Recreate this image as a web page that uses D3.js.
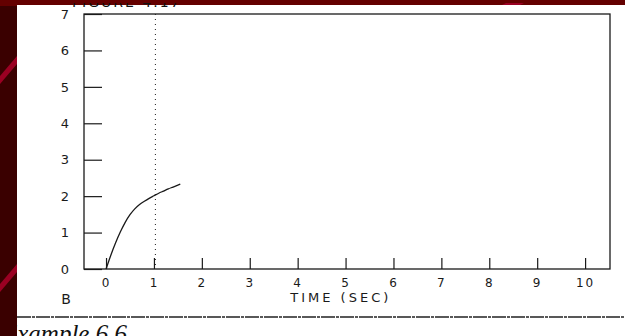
<!DOCTYPE html>
<html>
<head>
<meta charset="utf-8">
<script src="https://cdnjs.cloudflare.com/ajax/libs/d3/7.8.5/d3.min.js"></script>
<style>
  html, body { margin: 0; padding: 0; background: #3a0000; }
  svg { display: block; }
</style>
</head>
<body>
<svg id="svg" width="625" height="336"></svg>
<script>
// curve
var timeSec = [0, 0.1, 0.2, 0.3, 0.4, 0.5, 0.6, 0.7, 0.8, 0.9, 1.0, 1.1, 1.2, 1.3, 1.4, 1.55];
var response = [0, 0.38, 0.72, 1.02, 1.28, 1.49, 1.65, 1.77, 1.86, 1.94, 2.01, 2.08, 2.14, 2.2, 2.25, 2.33];
var xTicks = [0, 1, 2, 3, 4, 5, 6, 7, 8, 9, 10];
var yTicks = [0, 1, 2, 3, 4, 5, 6, 7];
var markerTime = 1.03;

(function() {
    var svg = d3.select("#svg");
    var W = 625, H = 336;

    // background: dark slide with red diagonal stripes
    svg.append("rect").attr("width", W).attr("height", H).attr("fill", "#3a0000");
    svg.append("rect").attr("width", W).attr("height", 6).attr("fill", "#640000");
    var stripes = [[0, 76, 17, 56], [0, 284, 17, 264]];
    stripes.forEach(function(s) {
        svg.append("path")
            .attr("d", "M" + s[0] + "," + s[1] + "L" + s[2] + "," + s[3] + "L" + s[2] + "," + (s[3] + 8) + "L" + s[0] + "," + (s[1] + 8) + "Z")
            .attr("fill", "#9a0022");
    });
    svg.append("path").attr("d", "M500,6L512,0L530,0L518,6Z").attr("fill", "#9a0022");

    // white scanned page
    svg.append("rect").attr("x", 17).attr("y", 5).attr("width", W - 17).attr("height", H - 5).attr("fill", "#fff");

    // cut-off caption at top
    svg.append("text").attr("x", 72).attr("y", 7).attr("font-family", "DejaVu Sans").attr("font-size", 14)
        .attr("letter-spacing", 2).attr("fill", "#111").text("FIGURE 4.17");
    svg.append("rect").attr("x", 17).attr("y", 0).attr("width", W - 17).attr("height", 3).attr("fill", "#640000");

    var x0 = 84, x1 = 610, y0 = 14, y1 = 269;
    var x = d3.scaleLinear().domain([-0.46, 10.52]).range([x0, x1]);
    var y = d3.scaleLinear().domain([0, 7]).range([y1, y0]);

    var g = svg.append("g");
    var ink = "#1a1a1a";

    // frame
    g.append("rect").attr("x", x0).attr("y", y0).attr("width", x1 - x0).attr("height", y1 - y0)
        .attr("fill", "none").attr("stroke", ink).attr("stroke-width", 1.3);

    // y ticks: drawn inward
    var yAxis = d3.axisLeft(y).tickValues(yTicks).tickSize(-18).tickPadding(14).tickFormat(d3.format("d"));
    var ya = g.append("g").attr("transform", "translate(" + x0 + ",0)").call(yAxis);
    ya.select(".domain").remove();
    ya.selectAll("line").attr("stroke", ink).attr("stroke-width", 1.2);
    ya.selectAll("text").attr("font-family", "DejaVu Sans").attr("font-size", 13)
        .attr("fill", ink).attr("dx", -1);

    // x ticks: drawn inward
    var xAxis = d3.axisBottom(x).tickValues(xTicks).tickSize(-11).tickPadding(9).tickFormat(d3.format("d"));
    var xa = g.append("g").attr("transform", "translate(0," + y1 + ")").call(xAxis);
    xa.select(".domain").remove();
    xa.selectAll("line").attr("stroke", ink).attr("stroke-width", 1.2);
    xa.selectAll("text").attr("font-family", "DejaVu Sans").attr("font-size", 12).attr("fill", ink).attr("letter-spacing", 2);

    // dotted marker line
    g.append("line").attr("x1", x(markerTime)).attr("x2", x(markerTime)).attr("y1", y0).attr("y2", y1)
        .attr("stroke", ink).attr("stroke-width", 1).attr("stroke-dasharray", "1,4");

    // response curve
    var line = d3.line().x(function(d, i) { return x(timeSec[i]); }).y(function(d) { return y(d); }).curve(d3.curveMonotoneX);
    g.append("path").datum(response).attr("d", line).attr("fill", "none").attr("stroke", ink).attr("stroke-width", 1.3);

    // labels
    g.append("text").attr("x", x(4.9)).attr("y", 302).attr("text-anchor", "middle").attr("font-family", "DejaVu Sans")
        .attr("font-size", 13).attr("letter-spacing", 3).attr("fill", ink).text("TIME (SEC)");
    g.append("text").attr("x", 66).attr("y", 304).attr("text-anchor", "middle").attr("font-family", "DejaVu Sans")
        .attr("font-size", 14).attr("fill", ink).text("B");

    // separator and caption below
    svg.append("line").attr("x1", 17).attr("x2", W).attr("y1", 317).attr("y2", 317)
        .attr("stroke", "#222").attr("stroke-width", 1.5).attr("stroke-dasharray", "14,1,3,1");
    svg.append("text").attr("x", 2).attr("y", 342).attr("font-family", "Liberation Serif").attr("font-style", "italic")
        .attr("font-size", 25).attr("fill", "#111").text("Example 6.6");
    svg.append("rect").attr("x", 0).attr("y", 300).attr("width", 17).attr("height", 36).attr("fill", "#3a0000");
})();
</script>
</body>
</html>
